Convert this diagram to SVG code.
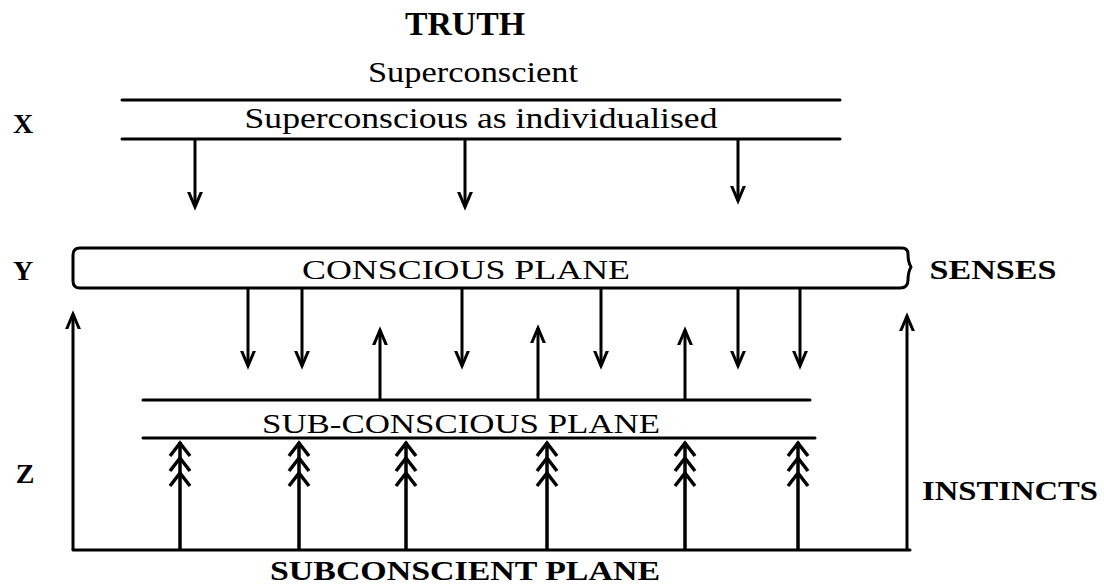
<svg xmlns="http://www.w3.org/2000/svg" width="1104" height="587" viewBox="0 0 1104 587">
<style>
  text { font-family: "Liberation Serif", "DejaVu Serif", serif; fill: #000; }
  .b { font-weight: bold; }
  .ln { stroke: #000; stroke-width: 3; fill: none; stroke-linecap: round; }
  .ar { stroke: #000; stroke-width: 3; fill: none; marker-end: url(#head); }
  .tr { stroke: #000; stroke-width: 3.5; fill: none; marker-end: url(#tri); }
</style>
<defs>
  <marker id="head" markerUnits="userSpaceOnUse" markerWidth="30" markerHeight="30" viewBox="-15 -15 30 30" refX="0" refY="0" orient="auto">
    <path d="M -19 -8 L 0 0 L -19 8" fill="none" stroke="#000" stroke-width="3" stroke-linejoin="miter"/>
  </marker>
  <marker id="tri" markerUnits="userSpaceOnUse" markerWidth="60" markerHeight="30" viewBox="-52 -15 60 30" refX="0" refY="0" orient="auto">
    <path d="M -14 -10 L -1 0 L -14 10 M -29 -10 L -16 0 L -29 10 M -44 -10 L -31 0 L -44 10" fill="none" stroke="#000" stroke-width="3.5"/>
  </marker>
</defs>

<g id="labels">
  <text x="465" y="35" class="b" font-size="34" text-anchor="middle" textLength="120" lengthAdjust="spacingAndGlyphs">TRUTH</text>
  <text x="473" y="82" font-size="30" text-anchor="middle" textLength="210" lengthAdjust="spacingAndGlyphs">Superconscient</text>
  <text x="23" y="133" class="b" font-size="28" text-anchor="middle">X</text>
  <text x="23" y="280" class="b" font-size="28" text-anchor="middle">Y</text>
  <text x="25" y="483" class="b" font-size="28" text-anchor="middle">Z</text>
  <text x="993" y="279" class="b" font-size="27" text-anchor="middle" textLength="127" lengthAdjust="spacingAndGlyphs">SENSES</text>
  <text x="1010" y="500" class="b" font-size="28" text-anchor="middle" textLength="176" lengthAdjust="spacingAndGlyphs">INSTINCTS</text>
</g>

<g id="superconscious">
  <line class="ln" x1="122" y1="100" x2="840" y2="100"/>
  <text x="481" y="128" font-size="29" text-anchor="middle" textLength="473" lengthAdjust="spacingAndGlyphs">Superconscious as individualised</text>
  <line class="ln" x1="122" y1="139" x2="840" y2="139"/>
</g>

<g id="conscious-plane">
  <path class="ln" d="M 80 248 H 902 Q 908 248 908 254 Q 908 262 911 267 Q 908 272 908 280 Q 908 288 900 288 H 80 Q 73 288 73 281 V 255 Q 73 248 80 248 Z" stroke-linejoin="round"/>
  <text x="466" y="279" font-size="28" text-anchor="middle" textLength="328" lengthAdjust="spacingAndGlyphs">CONSCIOUS PLANE</text>
</g>

<g id="subconscious-plane">
  <line class="ln" x1="143" y1="400" x2="810" y2="400"/>
  <text x="461" y="433" font-size="28" text-anchor="middle" textLength="398" lengthAdjust="spacingAndGlyphs">SUB-CONSCIOUS PLANE</text>
  <line class="ln" x1="143" y1="438" x2="815" y2="438"/>
</g>

<g id="subconscient-plane">
  <line class="ln" x1="73" y1="550" x2="910" y2="550"/>
  <text x="465" y="580" class="b" font-size="27" text-anchor="middle" textLength="390" lengthAdjust="spacingAndGlyphs">SUBCONSCIENT PLANE</text>
</g>

<g id="connectors">
  <line class="ar" x1="195" y1="139" x2="195" y2="207"/>
  <line class="ar" x1="465" y1="139" x2="465" y2="207"/>
  <line class="ar" x1="738" y1="139" x2="738" y2="201"/>

  <line class="ar" x1="248" y1="288" x2="248" y2="366"/>
  <line class="ar" x1="302" y1="288" x2="302" y2="366"/>
  <line class="ar" x1="462" y1="288" x2="462" y2="366"/>
  <line class="ar" x1="601" y1="288" x2="601" y2="366"/>
  <line class="ar" x1="738" y1="288" x2="738" y2="366"/>
  <line class="ar" x1="800" y1="288" x2="800" y2="366"/>

  <line class="ar" x1="380" y1="400" x2="380" y2="330"/>
  <line class="ar" x1="538" y1="400" x2="538" y2="328"/>
  <line class="ar" x1="685" y1="400" x2="685" y2="330"/>

  <line class="ar" x1="73" y1="550" x2="73" y2="314"/>
  <line class="ar" x1="907" y1="550" x2="907" y2="316"/>

  <line class="tr" x1="180" y1="550" x2="180" y2="442"/>
  <line class="tr" x1="299" y1="550" x2="299" y2="442"/>
  <line class="tr" x1="406" y1="550" x2="406" y2="442"/>
  <line class="tr" x1="547" y1="550" x2="547" y2="442"/>
  <line class="tr" x1="685" y1="550" x2="685" y2="442"/>
  <line class="tr" x1="798" y1="550" x2="798" y2="442"/>
</g>
</svg>
